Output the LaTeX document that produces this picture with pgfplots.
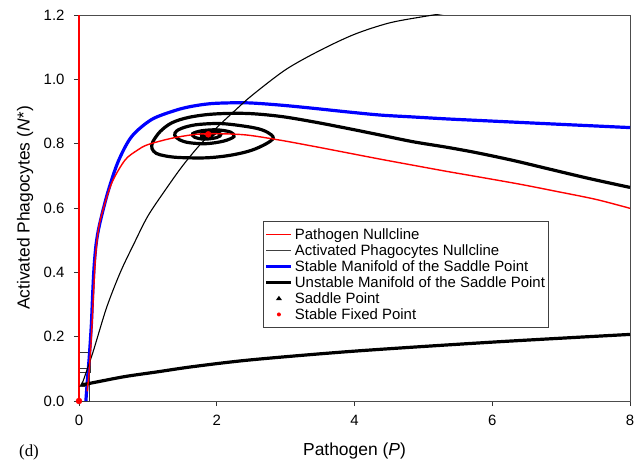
\documentclass[border=0pt]{standalone}
\usepackage{pgfplots}
\pgfplotsset{compat=1.18}
\usepackage{fontspec}
\setmainfont{Liberation Sans}
\newfontfamily\seriffont{Liberation Serif}
\begin{document}
\begin{tikzpicture}
\begin{axis}[
  scale only axis, width=551bp, height=386bp,
  clip mode=individual,
  xmin=0, xmax=8, ymin=0, ymax=1.2,
  xtick={0,2,4,6,8}, ytick={0,0.2,0.4,0.6,0.8,1.0,1.2},
  yticklabel style={/pgf/number format/fixed, /pgf/number format/fixed zerofill, /pgf/number format/precision=1, xshift=-6bp},
  /pgf/number format/assume math mode=true,
  tick align=outside, xtick pos=bottom, ytick pos=left,
  major tick length=5bp,
  tick style={black!80, line width=0.8bp},
  axis line style={black!70, line width=0.9bp},
  ticklabel style={font=\fontsize{15}{17}\selectfont},
  xticklabel style={yshift=-6bp},
  xlabel={Pathogen (\textit{P})},
  ylabel={Activated Phagocytes (\textit{N*})},
  label style={font=\fontsize{17.5}{20}\selectfont},
  xlabel style={at={(rel axis cs:0.5,0)}, anchor=center, yshift=-50bp},
  ylabel style={at={(rel axis cs:0,0.5)}, anchor=center, yshift=54bp},
  legend style={at={(axis cs:2.672,0.56)}, anchor=north west,
    font=\fontsize{15}{16}\selectfont, draw=black!75, line width=0.8bp,
    inner xsep=1.5bp, inner ysep=5bp, row sep=-0.3bp},
  legend cell align=left,
]
% small zoom rectangles
\addplot[black!80, line width=0.8bp, forget plot] coordinates {(0,0.09) (0.17,0.09) (0.17,0.15) (0,0.15)};
\addplot[black!80, line width=0.8bp, forget plot] coordinates {(0,0) (0.15,0) (0.15,0.1) (0,0.1)};
% stable manifold
\addplot[blue, line width=3.2bp, smooth, forget plot] coordinates {
(0.1,0.0) (0.12,0.06) (0.15,0.14) (0.18,0.24) (0.2,0.34) (0.22,0.42) (0.25,0.49) (0.3,0.55)
(0.42,0.65) (0.57,0.745) (0.764,0.822) (1.054,0.875) (1.393,0.903) (1.635,0.916)
(1.95,0.925) (2.43,0.927) (2.917,0.92) (3.4,0.91) (3.885,0.899) (4.37,0.889) (4.85,0.883)
(5.335,0.877) (5.82,0.872) (6.9,0.861) (8,0.85)};
% unstable manifold: spiral branch
\addplot[black, line width=3.2bp, smooth, tension=0.55, forget plot] coordinates {
(8,0.664) (7.4,0.692) (6.79,0.723) (6.3,0.748) (5.77,0.772) (5.335,0.789) (4.85,0.806)
(4.37,0.827) (3.885,0.848) (3.4,0.868) (2.917,0.885) (2.43,0.894) (1.95,0.892) (1.6,0.882)
(1.35,0.865) (1.18,0.838) (1.07,0.805) (1.06,0.785) (1.12,0.770) (1.25,0.762) (1.45,0.757)
(1.85,0.756) (2.2,0.764) (2.5,0.779) (2.72,0.8) (2.82,0.818) (2.74,0.835) (2.55,0.849)
(2.1,0.862) (1.75,0.86) (1.55,0.852) (1.42,0.84) (1.39,0.826) (1.46,0.812) (1.6,0.803)
(1.85,0.800) (2.1,0.808) (2.25,0.822) (2.2,0.836) (2.0,0.843) (1.78,0.840) (1.65,0.831)
(1.68,0.82) (1.82,0.814) (2.0,0.819) (2.06,0.829) (1.95,0.837) (1.8,0.833) (1.78,0.824)
(1.88,0.822) (1.95,0.829) (1.88,0.832)};
% unstable manifold: lower branch
\addplot[black, line width=3.2bp, smooth, forget plot] coordinates {
(0.04,0.05) (0.23,0.058) (0.668,0.076) (1.15,0.091) (1.66,0.107) (2.5,0.128) (4,0.155) (6,0.183) (8,0.207)};
% activated phagocytes nullcline
\addplot[black, line width=1.1bp, smooth, forget plot] coordinates {
(0.04,0.05) (0.2,0.15) (0.4,0.29) (0.6,0.40) (0.8,0.49) (1.0,0.575) (1.25,0.655) (1.5,0.73)
(1.75,0.795) (2.0,0.85) (2.25,0.9) (2.5,0.948) (3.0,1.03) (3.5,1.09) (4.0,1.14) (4.5,1.175)
(5.0,1.195) (5.6,1.215)};
% pathogen nullcline
\addplot[red, line width=1.6bp, clip=false, forget plot] coordinates {(0,0) (0,1.2)};
\addplot[red, line width=1.4bp, smooth, forget plot] coordinates {
(0.12,0.03) (0.15,0.1) (0.18,0.2) (0.21,0.33) (0.24,0.45) (0.28,0.53) (0.33,0.58) (0.474,0.677)
(0.668,0.749) (0.85,0.78) (1.0,0.797) (1.35,0.817) (1.7,0.829) (2.0,0.831) (2.43,0.827)
(2.917,0.811) (3.4,0.792) (3.885,0.772) (4.37,0.752) (4.85,0.733) (5.335,0.714) (5.82,0.696)
(6.4,0.674) (6.9,0.653) (7.5,0.627) (8,0.599)};
% points
\addplot[only marks, mark=triangle*, mark size=3.2bp, black, forget plot] coordinates {(0.05,0.05)};
\addplot[only marks, mark=*, mark size=3bp, red, clip=false, forget plot] coordinates {(0,0) (1.877,0.829)};
% legend
\addlegendimage{legend image code/.code={\draw[red, line width=1.2bp] (0bp,0bp) -- (25bp,0bp);}}
\addlegendentry{Pathogen Nullcline}
\addlegendimage{legend image code/.code={\draw[black!75, line width=1bp] (0bp,0bp) -- (25bp,0bp);}}
\addlegendentry{Activated Phagocytes Nullcline}
\addlegendimage{legend image code/.code={\draw[blue, line width=3bp] (0bp,0bp) -- (25bp,0bp);}}
\addlegendentry{Stable Manifold of the Saddle Point}
\addlegendimage{legend image code/.code={\draw[black, line width=3bp] (0bp,0bp) -- (25bp,0bp);}}
\addlegendentry{Unstable Manifold of the Saddle Point}
\addlegendimage{legend image code/.code={\path[draw=none,fill=none] (0bp,0bp) -- (25bp,0bp); \path[draw=none,fill=black] (12.5bp,2.6bp) -- (9.5bp,-1.6bp) -- (15.5bp,-1.6bp) -- cycle;}}
\addlegendentry{Saddle Point}
\addlegendimage{legend image code/.code={\path[draw=none,fill=none] (0bp,0bp) -- (25bp,0bp); \path[draw=none,fill=red] (12.5bp,0bp) circle (2bp);}}
\addlegendentry{Stable Fixed Point}
\end{axis}
\node[font=\seriffont\fontsize{17}{20}\selectfont] at ([xshift=-50bp,yshift=-51bp]current axis.south west) {(d)};
\pgfresetboundingbox
\path ([xshift=-79bp,yshift=-62bp]current axis.south west) rectangle ([xshift=561bp,yshift=401bp]current axis.south west);
\end{tikzpicture}
\end{document}
